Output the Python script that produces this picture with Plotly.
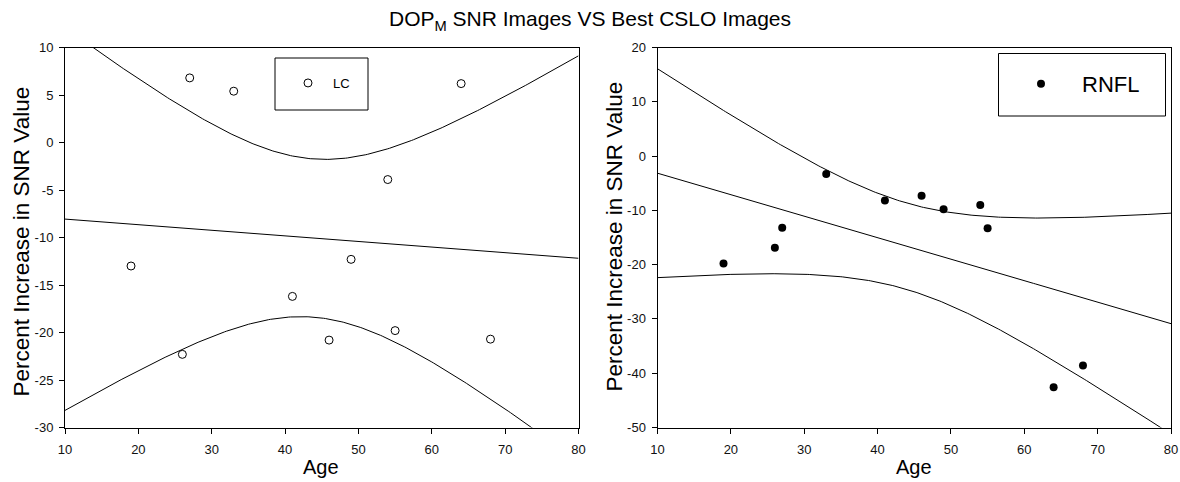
import numpy as np
import plotly.graph_objects as go

# Subject ages (shared by both panels)
age = [19, 26, 27, 33, 41, 46, 49, 54, 55, 64, 68]
# Percent increase in SNR, lamina cribrosa
lc_snr = [-13.0, -22.3, 6.8, 5.4, -16.2, -20.8, -12.3, -3.9, -19.8, 6.2, -20.7]
# Percent increase in SNR, retinal nerve fibre layer
rnfl_snr = [-19.8, -16.9, -13.2, -3.3, -8.2, -7.3, -9.8, -9.0, -13.3, -42.6, -38.6]

x_ticks = [10, 20, 30, 40, 50, 60, 70, 80]
lc_y_ticks = [-30, -25, -20, -15, -10, -5, 0, 5, 10]
rnfl_y_ticks = [-50, -40, -30, -20, -10, 0, 10, 20]

W, H = 1180, 482
FONT = "Liberation Sans, Arial, sans-serif"
T_CRIT = 2.262  # two-sided 95 %, n - 2 = 9 degrees of freedom


def fit_with_band(x, y, grid):
    """Least-squares line with its 95 % confidence band."""
    x = np.asarray(x, float)
    y = np.asarray(y, float)
    n = len(x)
    slope, intercept = np.polyfit(x, y, 1)
    resid = y - (intercept + slope * x)
    s = np.sqrt(np.sum(resid ** 2) / (n - 2))
    sxx = np.sum((x - x.mean()) ** 2)
    fit = intercept + slope * grid
    half = T_CRIT * s * np.sqrt(1.0 / n + (grid - x.mean()) ** 2 / sxx)
    return fit, fit - half, fit + half


def px(v):
    return v / W


def py(v):
    return 1 - v / H


def hyphen_labels(vals):
    # plain ASCII hyphen for negative numbers
    return [str(v) for v in vals]


grid = np.linspace(x_ticks[0], x_ticks[-1], 281)
lc_fit, lc_lo, lc_hi = fit_with_band(age, lc_snr, grid)
rn_fit, rn_lo, rn_hi = fit_with_band(age, rnfl_snr, grid)

fig = go.Figure()

line_style = dict(color="black", width=1)
for ys in (lc_fit, lc_lo, lc_hi):
    fig.add_trace(go.Scatter(x=grid, y=ys, mode="lines", line=line_style,
                             showlegend=False, hoverinfo="skip",
                             xaxis="x", yaxis="y"))
for ys in (rn_fit, rn_lo, rn_hi):
    fig.add_trace(go.Scatter(x=grid, y=ys, mode="lines", line=line_style,
                             showlegend=False, hoverinfo="skip",
                             xaxis="x2", yaxis="y2"))

fig.add_trace(go.Scatter(
    x=age, y=lc_snr, mode="markers", name="LC",
    marker=dict(symbol="circle-open", size=8, color="black",
                line=dict(color="black", width=1)),
    xaxis="x", yaxis="y", legend="legend"))
fig.add_trace(go.Scatter(
    x=age, y=rnfl_snr, mode="markers", name="RNFL",
    marker=dict(symbol="circle", size=8, color="black"),
    xaxis="x2", yaxis="y2", legend="legend2"))

ydom = [py(427.5), py(47.5)]
x1dom = [px(65), px(578.5)]
x2dom = [px(657.5), px(1171)]

axis_common = dict(
    showline=True, linecolor="black", linewidth=1, mirror=True,
    ticks="outside", ticklen=5, tickwidth=1, tickcolor="black",
    showgrid=False, zeroline=False, automargin=False,
    tickfont=dict(family=FONT, size=13, color="#111"),
)

fig.update_layout(
    width=W, height=H,
    margin=dict(l=0, r=0, t=0, b=0, autoexpand=False),
    paper_bgcolor="white", plot_bgcolor="white",
    font=dict(family=FONT, color="black"),
    title=dict(text="DOP<sub>M</sub> SNR Images VS Best CSLO Images",
               x=0.5, xanchor="center", y=py(19), yanchor="middle",
               font=dict(family=FONT, size=21, color="black")),
    xaxis=dict(domain=x1dom, range=[10, 80], tickvals=x_ticks,
               ticktext=hyphen_labels(x_ticks), ticklabelstandoff=5,
               anchor="y", **axis_common),
    yaxis=dict(domain=ydom, range=[-30, 10], tickvals=lc_y_ticks,
               ticktext=hyphen_labels(lc_y_ticks), ticklabelstandoff=3,
               anchor="x", **axis_common),
    xaxis2=dict(domain=x2dom, range=[10, 80], tickvals=x_ticks,
                ticktext=hyphen_labels(x_ticks), ticklabelstandoff=5,
                anchor="y2", **axis_common),
    yaxis2=dict(domain=ydom, range=[-50, 20], tickvals=rnfl_y_ticks,
                ticktext=hyphen_labels(rnfl_y_ticks), ticklabelstandoff=3,
                anchor="x2", **axis_common),
    legend=dict(x=px(283), y=py(83), xanchor="left", yanchor="middle",
                bgcolor="rgba(0,0,0,0)", borderwidth=0, itemwidth=40,
                font=dict(family=FONT, size=13, color="black")),
    legend2=dict(x=px(1000), y=py(84), xanchor="left", yanchor="middle",
                 bgcolor="rgba(0,0,0,0)", borderwidth=0, itemwidth=72,
                 font=dict(family=FONT, size=22, color="black")),
    shapes=[
        dict(type="rect", xref="paper", yref="paper",
             x0=px(275), x1=px(368), y0=py(110), y1=py(58),
             line=dict(color="black", width=1)),
        dict(type="rect", xref="paper", yref="paper",
             x0=px(998.5), x1=px(1165.5), y0=py(116), y1=py(53.5),
             line=dict(color="black", width=1)),
    ],
    annotations=[
        dict(text="Percent Increase in SNR Value", xref="paper", yref="paper",
             x=px(20.5), y=py(242), textangle=-90, showarrow=False,
             xanchor="center", yanchor="middle",
             font=dict(family=FONT, size=22.5, color="black")),
        dict(text="Percent Increase in SNR Value", xref="paper", yref="paper",
             x=px(614), y=py(236.5), textangle=-90, showarrow=False,
             xanchor="center", yanchor="middle",
             font=dict(family=FONT, size=22.5, color="black")),
        dict(text="Age", xref="paper", yref="paper",
             x=px(321), y=py(467), showarrow=False,
             xanchor="center", yanchor="middle",
             font=dict(family=FONT, size=20, color="black")),
        dict(text="Age", xref="paper", yref="paper",
             x=px(914), y=py(467), showarrow=False,
             xanchor="center", yanchor="middle",
             font=dict(family=FONT, size=20, color="black")),
    ],
)

fig.write_html("out.html")
